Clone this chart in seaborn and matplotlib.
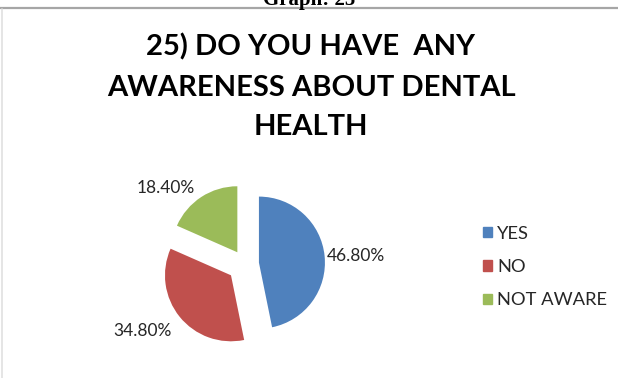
import numpy as np
import matplotlib
matplotlib.use("Agg")
import matplotlib.pyplot as plt
import seaborn as sns

categories = ["YES", "NO", "NOT AWARE"]
shares = [46.8, 34.8, 18.4]
pct_labels = ["46.80%", "34.80%", "18.40%"]
title = "25) DO YOU HAVE  ANY\nAWARENESS ABOUT DENTAL\nHEALTH"

sns.set_theme(style="white")
colors = ["#4F81BD", "#C0504D", "#9BBB59"]
plt.rcParams["font.family"] = ["Lato", "DejaVu Sans"]

W, H = 618, 378
fig = plt.figure(figsize=(W / 100, H / 100), dpi=100)
fig.patch.set_facecolor("white")

# pixel-based canvas axes
ax = fig.add_axes([0, 0, 1, 1])
cx, cy, r = 245, H - 264, 66
explode = [14, 18, 14]  # offsets in pixels
wedges, _ = ax.pie(shares, colors=colors, startangle=90, counterclock=False,
                   explode=explode, center=(cx, cy), radius=r,
                   wedgeprops=dict(linewidth=0))

# percentage labels beside each slice
label_angle = [4, -148, 138]
label_dist = [1.47, 1.58, 1.45]
for w, a, d, txt in zip(wedges, label_angle, label_dist, pct_labels):
    ox, oy = w.center
    t = np.deg2rad(a)
    ax.text(ox + d * r * np.cos(t), oy + d * r * np.sin(t), txt,
            ha="center", va="center", fontsize=12.5, color="#262626")

ax.set_xlim(0, W)
ax.set_ylim(0, H)
ax.set_aspect("auto")
ax.axis("off")

# frame lines
ax.plot([0, W], [H - 8, H - 8], color="#a6a6a6", lw=1.6, clip_on=False)
ax.plot([1.5, 1.5], [0, H - 9], color="#e0e0e0", lw=1.2)

# caption above the frame
fig.text(0.5, (H - 0.5) / H, "Graph: 25", ha="center", va="center",
         fontsize=15, fontweight="bold", family=["Liberation Serif"], color="black")

fig.text(311 / W, 1 - 87 / H, title, ha="center", va="center",
         fontsize=21, fontweight="bold", linespacing=1.65, color="black")

# legend
handles = [plt.Rectangle((0, 0), 1, 1, color=c) for c in colors]
leg = fig.legend(handles, categories, loc="center left",
                 bbox_to_anchor=(466 / W, 1 - 267 / H), frameon=False,
                 fontsize=13.2, handlelength=0.5, handleheight=0.5,
                 handletextpad=0.3, labelspacing=0.95)
for t in leg.get_texts():
    t.set_color("#262626")

fig.savefig("out.png", dpi=100, facecolor="white")
